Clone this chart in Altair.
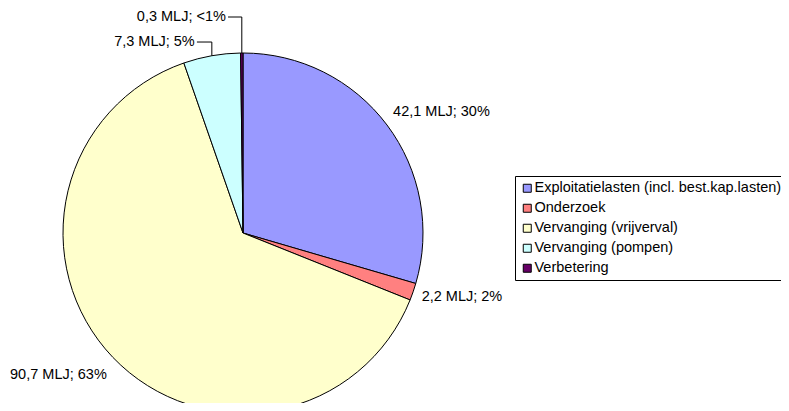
import math
import altair as alt
import pandas as pd

# ---- data ----
categories = [
    "Exploitatielasten (incl. best.kap.lasten)",
    "Onderzoek",
    "Vervanging (vrijverval)",
    "Vervanging (pompen)",
    "Verbetering",
]
values = [42.1, 2.2, 90.7, 7.3, 0.3]
labels = ["42,1 MLJ; 30%", "2,2 MLJ; 2%", "90,7 MLJ; 63%", "7,3 MLJ; 5%", "0,3 MLJ; <1%"]
colors = ["#9999FF", "#FF8080", "#FFFFCC", "#CCFFFF", "#660066"]

# ---- layout ----
R = 180            # pie radius in px
W, H = 773, 395    # whole svg (autosize none, padding 0)
CX, CY = 235, 225  # pie centre inside the svg (px)
FONT = "Liberation Sans"
FS = 14.5
label_r = [1.07, 1.05, 1.1, None, None]      # radius (pie units) for plain labels
nudge = [(-4, -5), (0, 2), (7, 5), (0, 0), (0, 0)]   # px nudges for plain labels
leader_h = [None, None, None, 1.061, 1.2]    # elbow height (pie units) for leader labels
leader_dx = [None, None, None, -0.256, -0.083]

total = sum(values)
rows, lead_rows = [], []
cum = 0.0
for i, (c, v, lab) in enumerate(zip(categories, values, labels)):
    mid = (cum + v / 2) / total * 2 * math.pi
    cum += v
    sx, cy = math.sin(mid), math.cos(mid)
    row = dict(idx=i, cat=c, value=v, label=lab)
    if label_r[i] is not None:
        row["lx"] = label_r[i] * sx + nudge[i][0] / R
        row["ly"] = label_r[i] * cy - nudge[i][1] / R
        row["side"] = "L" if sx >= 0 else "R"
    else:
        row["lx"] = leader_dx[i] - 0.012
        row["ly"] = leader_h[i]
        row["side"] = "R"
        pts = [(sx, cy), (sx, leader_h[i]), (leader_dx[i], leader_h[i])]
        for k, (px, py) in enumerate(pts):
            lead_rows.append(dict(idx=i, k=k, x=px, y=py))
    rows.append(row)

df = pd.DataFrame(rows)
lead = pd.DataFrame(lead_rows)

xs = alt.Scale(domain=[-CX / R, (W - CX) / R], nice=False, zero=False)
ys = alt.Scale(domain=[-(H - CY) / R, CY / R], nice=False, zero=False)

pie = alt.Chart(df).mark_arc(outerRadius=R, stroke="black", strokeWidth=1).encode(
    x=alt.X(datum=0, scale=xs, axis=None),
    y=alt.Y(datum=0, scale=ys, axis=None),
    theta=alt.Theta("value:Q", stack=True),
    order=alt.Order("idx:Q"),
    color=alt.Color(
        "cat:N",
        scale=alt.Scale(domain=categories, range=colors),
        sort=categories,
        legend=alt.Legend(
            title=None,
            orient="none",
            legendX=507,
            legendY=168,
            strokeColor="black",
            fillColor="white",
            padding=5,
            symbolType="square",
            symbolSize=64,
            symbolStrokeColor="black",
            symbolStrokeWidth=1,
            symbolOpacity=1,
            labelFont=FONT,
            labelFontSize=FS,
            labelColor="black",
            labelLimit=400,
            rowPadding=5,
            labelOffset=0,
        ),
    ),
)

def text_layer(side, align):
    return alt.Chart(df).transform_filter(alt.datum.side == side).mark_text(
        align=align, baseline="middle", font=FONT, fontSize=FS, color="black"
    ).encode(
        x=alt.X("lx:Q", scale=xs, axis=None),
        y=alt.Y("ly:Q", scale=ys, axis=None),
        text="label:N",
    )

leaders = alt.Chart(lead).mark_line(color="black", strokeWidth=1).encode(
    x=alt.X("x:Q", scale=xs, axis=None),
    y=alt.Y("y:Q", scale=ys, axis=None),
    detail="idx:N",
    order="k:Q",
)

chart = alt.layer(pie, leaders, text_layer("L", "left"), text_layer("R", "right")).properties(
    width=W, height=H, padding=0, background="white",
    autosize=alt.AutoSizeParams(type="none"),
).configure_view(stroke=None)

chart.save("out.html", embed_options={"renderer": "svg", "actions": False})
